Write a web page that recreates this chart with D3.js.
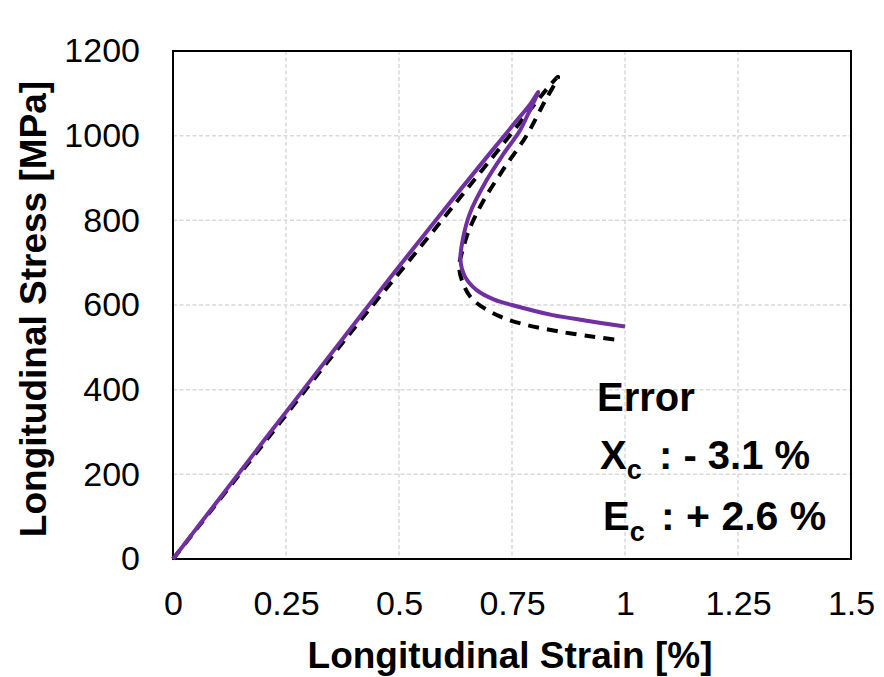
<!DOCTYPE html>
<html>
<head>
<meta charset="utf-8">
<script src="https://cdn.jsdelivr.net/npm/d3@7"></script>
<style>
  body { margin: 0; background: #fff; }
  svg { font-family: "Liberation Sans", Arial, sans-serif; }
</style>
</head>
<body>
<svg id="chart" width="884" height="677"></svg>
<script>
// strain [%] / stress [MPa]
const testStrain = [0, 0.1, 0.2, 0.3, 0.4, 0.5, 0.6, 0.7, 0.76, 0.79, 0.808,
  0.785, 0.768, 0.73, 0.694, 0.657, 0.641, 0.636, 0.646, 0.672, 0.712, 0.75, 0.84, 0.915, 1.0]
const testStress = [0, 139, 278, 416, 554, 691, 825, 957, 1035, 1074, 1103,
  1050, 1013, 955, 895, 817, 754, 706, 667, 635, 612, 600, 576, 563, 549]

const modelStrain = [0, 0.2, 0.4, 0.56, 0.7, 0.852,
  0.822, 0.782, 0.73, 0.684, 0.655, 0.639, 0.633, 0.642, 0.664, 0.723, 0.782, 0.856, 0.93, 0.98]
const modelStress = [0, 272, 544, 754, 940, 1139,
  1080, 1000, 919, 841, 777, 723, 690, 650, 612, 573, 553, 537, 525, 518]

const xTicks = [0, 0.25, 0.5, 0.75, 1, 1.25, 1.5]
const yTicks = [0, 200, 400, 600, 800, 1000, 1200]

const svg = d3.select('#chart')
const margin = {left: 173, top: 51, right: 33, bottom: 118}
const width = 884 - margin.left - margin.right
const height = 677 - margin.top - margin.bottom

const x = d3.scaleLinear().domain([0, 1.5]).range([0, width])
const y = d3.scaleLinear().domain([0, 1200]).range([height, 0])

const g = svg.append('g').attr('transform', `translate(${margin.left},${margin.top})`)

// grid
g.append('g').selectAll('line')
  .data(xTicks.slice(1, -1))
  .join('line')
  .attr('x1', d => x(d)).attr('x2', d => x(d))
  .attr('y1', 0).attr('y2', height)
  .attr('stroke', '#d9d9d9').attr('stroke-width', 1.5).attr('stroke-dasharray', '4,2.5')
g.append('g').selectAll('line')
  .data(yTicks.slice(1, -1))
  .join('line')
  .attr('y1', d => y(d)).attr('y2', d => y(d))
  .attr('x1', 0).attr('x2', width)
  .attr('stroke', '#d9d9d9').attr('stroke-width', 1.5).attr('stroke-dasharray', '4,2.5')

// axes (labels only, frame drawn separately)
const xAxis = g.append('g')
  .attr('transform', `translate(0,${height})`)
  .call(d3.axisBottom(x).tickValues(xTicks).tickSize(0).tickPadding(32).tickFormat(d3.format('')))
const yAxis = g.append('g')
  .call(d3.axisLeft(y).tickValues(yTicks).tickSize(0).tickPadding(33).tickFormat(d3.format('')))
;[xAxis, yAxis].forEach(a => {
  a.select('.domain').remove()
  a.selectAll('text').attr('font-size', 34).attr('fill', '#000')
    .attr('font-family', '"Liberation Sans", Arial, sans-serif')
})

// frame
g.append('rect')
  .attr('width', width).attr('height', height)
  .attr('fill', 'none').attr('stroke', '#000').attr('stroke-width', 2)

const line = d3.line()
  .x(d => x(d[0])).y(d => y(d[1]))
  .curve(d3.curveCatmullRom.alpha(0.5))

g.append('path')
  .datum(modelStrain.map((s, i) => [s, modelStress[i]]))
  .attr('d', line)
  .attr('fill', 'none').attr('stroke', '#000').attr('stroke-width', 4)
  .attr('stroke-dasharray', '11,8')

g.append('path')
  .datum(testStrain.map((s, i) => [s, testStress[i]]))
  .attr('d', line)
  .attr('fill', 'none').attr('stroke', '#7030a0').attr('stroke-width', 4)

// axis titles
svg.append('text')
  .attr('x', 510).attr('y', 668)
  .attr('text-anchor', 'middle')
  .attr('font-size', 37).attr('font-weight', 'bold')
  .text('Longitudinal Strain [%]')
svg.append('text')
  .attr('transform', 'translate(46,309) rotate(-90)')
  .attr('text-anchor', 'middle')
  .attr('font-size', 37).attr('font-weight', 'bold')
  .text('Longitudinal Stress [MPa]')

// error annotation
const note = svg.append('g').attr('font-weight', 'bold').attr('font-size', 40)
note.append('text').attr('x', 597).attr('y', 411).text('Error')
const xc = note.append('text').attr('x', 600).attr('y', 469)
xc.append('tspan').text('X')
xc.append('tspan').attr('font-size', 27).attr('dy', 10).text('c')
xc.append('tspan').attr('x', 659).attr('dy', -10).text(': - 3.1 %')
const ec = note.append('text').attr('x', 603).attr('y', 530)
ec.append('tspan').text('E')
ec.append('tspan').attr('font-size', 27).attr('dy', 11).text('c')
ec.append('tspan').attr('x', 661).attr('dy', -11).attr('font-size', 41).text(': + 2.6 %')
</script>
</body>
</html>
